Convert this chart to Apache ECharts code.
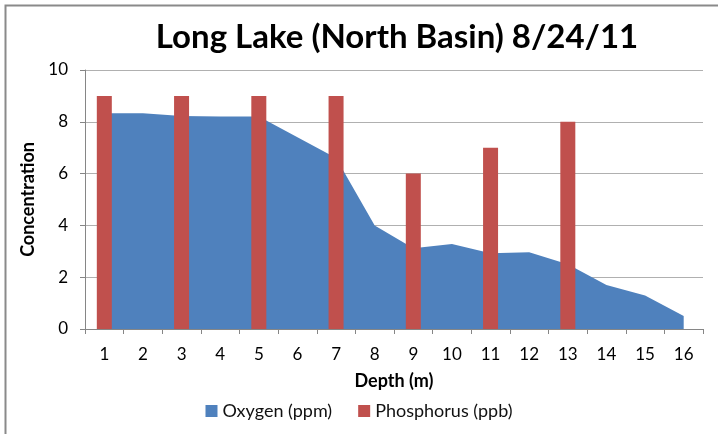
<!DOCTYPE html>
<html>
<head>
<meta charset="utf-8">
<script src="https://cdn.jsdelivr.net/npm/echarts@6/dist/echarts.min.js"></script>
<style>html,body{margin:0;padding:0;background:#fff}#c{width:718px;height:434px}</style>
</head>
<body>
<div id="c"></div>
<script>
var depths = ['1','2','3','4','5','6','7','8','9','10','11','12','13','14','15','16'];
var oxygen = [8.33, 8.33, 8.22, 8.2, 8.2, 7.4, 6.6, 4.0, 3.12, 3.28, 2.92, 2.96, 2.5, 1.7, 1.29, 0.5];
var phosphorus = [9, null, 9, null, 9, null, 9, null, 6, null, 7, null, 8, null, null, null];
var yTicks = [0, 2, 4, 6, 8, 10];

var FONT = 'Lato';
var chart = echarts.init(document.getElementById('c'));
chart.setOption({
  animation: false,
  backgroundColor: '#ffffff',
  graphic: [{
    type: 'rect', shape: {x: 5.5, y: 5.5, width: 730, height: 440},
    style: {fill: 'none', stroke: '#8a8a8a', lineWidth: 2}, silent: true, z: -1
  }],
  title: {
    text: 'Long Lake (North Basin) 8/24/11',
    left: 392, top: 16, textAlign: 'center',
    textStyle: {fontFamily: FONT, fontWeight: 'bold', fontSize: 33, color: '#000'}
  },
  grid: {left: 85, right: 15, top: 70, bottom: 105, containLabel: false},
  legend: {
    data: ['Oxygen (ppm)', 'Phosphorus (ppb)'],
    left: 'center', top: 397, itemWidth: 12, itemHeight: 12, itemGap: 26,
    icon: 'rect',
    textStyle: {fontFamily: FONT, fontSize: 18, color: '#111'}
  },
  xAxis: {
    type: 'category', data: depths, boundaryGap: true,
    name: 'Depth (m)', nameLocation: 'middle', nameGap: 43,
    nameTextStyle: {fontFamily: FONT, fontWeight: 'bold', fontSize: 18, color: '#000'},
    axisLine: {lineStyle: {color: '#868686', width: 1}},
    axisTick: {show: true, alignWithLabel: false, length: 5, lineStyle: {color: '#868686'}},
    axisLabel: {fontFamily: FONT, fontSize: 17, color: '#000', margin: 17, interval: 0},
    splitLine: {show: false}
  },
  yAxis: {
    type: 'value', min: 0, max: 10, interval: 2,
    name: 'Concentration', nameLocation: 'middle', nameGap: 46, nameRotate: 90,
    nameTextStyle: {fontFamily: FONT, fontWeight: 'bold', fontSize: 18, color: '#000'},
    axisLine: {show: true, lineStyle: {color: '#868686'}},
    axisTick: {show: true, length: 5, lineStyle: {color: '#868686'}},
    axisLabel: {fontFamily: FONT, fontSize: 17, color: '#000', margin: 17,
      formatter: function (v) { return yTicks.indexOf(v) >= 0 ? String(v) : ''; }},
    splitLine: {show: true, lineStyle: {color: '#b0b0b0', width: 1}}
  },
  series: [{
    name: 'Oxygen (ppm)', type: 'line', data: oxygen,
    symbol: 'none', lineStyle: {width: 0, color: '#4F81BD'},
    itemStyle: {color: '#4F81BD'},
    areaStyle: {color: '#4F81BD', opacity: 1}, z: 2
  }, {
    name: 'Phosphorus (ppb)', type: 'bar', data: phosphorus,
    barWidth: 15, itemStyle: {color: '#C0504D'}, z: 3
  }]
});
</script>
</body>
</html>
